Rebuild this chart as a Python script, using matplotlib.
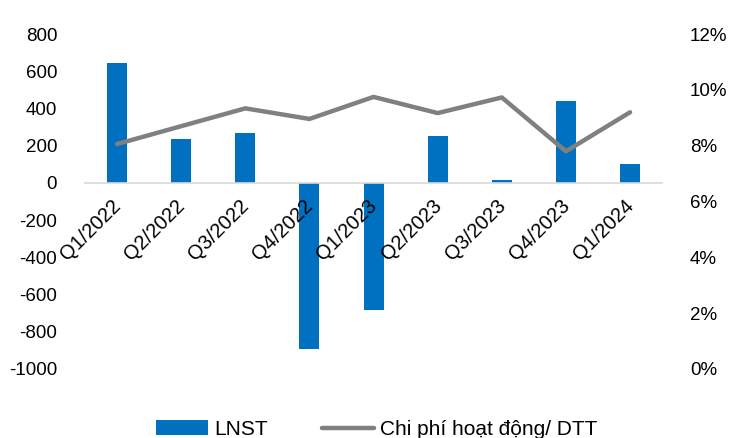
import matplotlib
matplotlib.use("Agg")
import matplotlib.pyplot as plt
from matplotlib.patches import Patch
from matplotlib.lines import Line2D
from matplotlib.transforms import ScaledTranslation
import numpy as np

plt.rcParams['font.family'] = ['Liberation Sans', 'DejaVu Sans']
plt.rcParams['axes.unicode_minus'] = False

quarters = ["Q1/2022", "Q2/2022", "Q3/2022", "Q4/2022", "Q1/2023",
            "Q2/2023", "Q3/2023", "Q4/2023", "Q1/2024"]
lnst = [645, 238, 268, -893, -682, 254, 15, 443, 103]
opex_ratio = [0.0806, 0.0870, 0.0934, 0.0896, 0.0975, 0.0917, 0.0973, 0.0780, 0.0920]

bar_color = "#0070C0"
line_color = "#808080"

fig = plt.figure(figsize=(7.39, 4.38), dpi=100)
ax = fig.add_axes([0.115, 0.158, 0.781, 0.764])
x = np.arange(len(quarters))

ax.bar(x, lnst, width=0.31, color=bar_color, zorder=2)
ax.set_axisbelow(False)
ax.set_ylim(-1000, 800)
ax.set_yticks(np.arange(-1000, 801, 200))
ax.set_xlim(-0.5, len(quarters) - 0.5)
for s in ["top", "right", "left"]:
    ax.spines[s].set_visible(False)
ax.spines["bottom"].set_position(("data", 0))
ax.spines["bottom"].set_color("#D9D9D9")
ax.spines["bottom"].set_linewidth(1.2)
ax.tick_params(axis="y", length=0, labelsize=13.5, pad=20)

ax2 = ax.twinx()
ax2.plot(x, opex_ratio, color=line_color, linewidth=3.2, solid_capstyle="round",
         zorder=3)
ax2.set_ylim(0, 0.12)
ticks_r = np.arange(0, 0.121, 0.02)
ax2.set_yticks(ticks_r)
ax2.set_yticklabels([f"{int(round(v * 100))}%" for v in ticks_r])
for s in ["top", "right", "left", "bottom"]:
    ax2.spines[s].set_visible(False)
ax2.tick_params(axis="y", length=0, labelsize=13.5, pad=20)

# category labels under the zero line, slanted
ax.set_xticks(x)
ax.set_xticklabels(quarters)
ax.tick_params(axis="x", length=0, pad=6)
shift = ScaledTranslation(-6 / 100, -5 / 100, fig.dpi_scale_trans)
for lbl in ax.get_xticklabels():
    lbl.set_rotation(45)
    lbl.set_ha("right")
    lbl.set_va("top")
    lbl.set_rotation_mode("anchor")
    lbl.set_fontsize(14.5)
    lbl.set_transform(lbl.get_transform() + shift)

handles = [Patch(facecolor=bar_color, edgecolor="none"),
           Line2D([0], [0], color=line_color, linewidth=3.2, solid_capstyle="round")]
fig.legend(handles, ["LNST", "Chi phí hoạt động/ DTT"], loc="lower center",
           bbox_to_anchor=(0.51, -0.045), ncol=2, frameon=False, fontsize=15,
           handlelength=2.5, columnspacing=2.6, handletextpad=0.3)

fig.savefig("out.png", dpi=100)
